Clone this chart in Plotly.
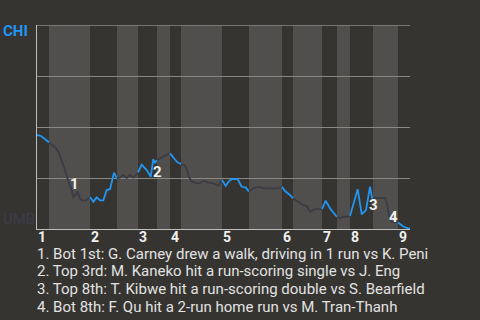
import plotly.graph_objects as go

# game progress (x) and CHI win probability in % (y)
progress = [0, 4, 8, 12,
            15, 19, 22, 25, 28, 31, 34, 36.5, 38, 40.5, 43, 45, 49, 53,
            56.3, 59.7, 63, 66.3, 69.7, 73, 77, 79.7, 80,
            83, 86.3, 89.7, 93, 96.3, 101,
            104.7, 109.7, 113.7, 116.3, 118, 120,
            123, 128, 133,
            136, 139.7, 144,
            148, 150, 152, 154.7, 159.7, 163, 166.3, 171.3, 176.3, 181.3, 185,
            188.7, 192, 194.7, 200.7, 203, 204.7, 208.7, 212,
            216.3, 221.3, 226.3, 233, 241, 245,
            248, 253, 256,
            261, 266, 269.7, 273, 278, 285,
            288.7, 293, 298, 300,
            303, 306.3, 309.7, 313,
            317, 320.7, 324.7, 329, 333, 335, 336,
            340, 343, 348, 350, 352.3, 354.7, 359.7, 361,
            366.3, 369.7, 373]
chi_wp = [46.1, 45.6, 44.1, 42.4,
          41.2, 39.5, 37.3, 33.3, 28.9, 24.0, 20.1, 15.7, 16.2, 18.4, 15.0, 14.0, 14.0, 15.7,
          13.4, 15.5, 14.0, 14.0, 19.1, 19.5, 27.6, 24.9, 25.0,
          25.2, 26.5, 25.0, 26.5, 25.2, 27.7,
          31.6, 28.9, 25.6, 34.2, 32.5, 33.8,
          34.7, 36.0, 37.1,
          35.0, 33.0, 31.7,
          31.1, 28.9, 25.5, 23.3, 22.4, 22.5, 23.7, 22.7, 22.4, 21.2, 24.0,
          21.1, 23.5, 24.4, 24.4, 22.4, 20.7, 20.4, 18.3,
          20.0, 20.7, 20.0, 19.9, 19.9, 20.7,
          18.6, 16.7, 15.0,
          13.2, 11.8, 11.3, 8.5, 9.7, 9.7,
          13.9, 10.1, 6.9, 5.9,
          5.2, 6.0, 6.0, 6.4,
          12.6, 19.5, 7.2, 9.3, 20.8, 15.4, 15.2,
          15.2, 15.5, 15.3, 12.3, 6.0, 3.6, 3.4, 3.2,
          1.2, 0.5, 0.2]

# half-inning boundaries on the progress scale (top 1st ... top 9th)
half_bounds = [0, 12, 53, 80, 101, 120, 133, 144, 185, 212, 245, 256, 285, 300, 313, 336, 361, 373]
inning_labels = ["1", "2", "3", "4", "5", "6", "7", "8", "9"]

# key events
event_ids = ["1", "2", "3", "4"]
event_x = [37, 120.5, 336, 356.5]
event_y = [22.1, 27.9, 11.8, 5.9]
event_texts = [
    "1. Bot 1st: G. Carney drew a walk, driving in 1 run vs K. Peni",
    "2. Top 3rd: M. Kaneko hit a run-scoring single vs J. Eng",
    "3. Top 8th: T. Kibwe hit a run-scoring double vs S. Bearfield",
    "4. Bot 8th: F. Qu hit a 2-run home run vs M. Tran-Thanh",
]

BG = "#363430"
BAND = "#504f4d"
BLUE = "#2196f3"
GREYLINE = "#3b3b44"
GRID = "#8a8885"
FONT = "Roboto"

fig = go.Figure()

shapes = []
for i in range(len(half_bounds) - 1):
    x0, x1 = half_bounds[i], half_bounds[i + 1]
    if i % 2 == 1:
        shapes.append(dict(type="rect", xref="x", yref="paper", x0=x0, x1=x1, y0=0, y1=1,
                           fillcolor=BAND, line=dict(width=0), layer="below"))
    xs = [x for x in progress if x0 <= x <= x1]
    ys = [y for x, y in zip(progress, chi_wp) if x0 <= x <= x1]
    fig.add_trace(go.Scatter(x=xs, y=ys, mode="lines",
                             line=dict(color=BLUE if i % 2 == 0 else GREYLINE, width=1.8),
                             hoverinfo="skip", showlegend=False))

# top gridline (100%)
shapes.append(dict(type="line", xref="paper", yref="y", x0=0, x1=1, y0=100, y1=100,
                   line=dict(color=GRID, width=1.5)))

annotations = []
for t, x, y in zip(event_ids, event_x, event_y):
    annotations.append(dict(x=x, y=y, xref="x", yref="y", text=f"<b>{t}</b>", showarrow=False,
                            font=dict(family=FONT, size=15, color="#f0f0f0")))

# inning tick labels at the start of each inning
for k, lab in enumerate(inning_labels):
    annotations.append(dict(x=half_bounds[2 * k], y=-0.04, xref="x", yref="paper",
                            text=f"<b>{lab}</b>", showarrow=False, xanchor="left", yanchor="middle",
                            borderpad=0, font=dict(family=FONT, size=14, color="#f0f0f0")))

line_pos = [-0.121, -0.208, -0.293, -0.380]
for txt, yp in zip(event_texts, line_pos):
    annotations.append(dict(x=-1 / 373, y=yp, xref="paper", yref="paper", text=txt, showarrow=False,
                            xanchor="left", yanchor="middle", borderpad=0,
                            font=dict(family=FONT, size=15, color="#e2e2e2")))

annotations.append(dict(x=-35 / 373, y=(229 - 30.5) / 204, xref="paper", yref="paper",
                        text="<b>CHI</b>", showarrow=False, xanchor="left", yanchor="middle",
                        borderpad=0, font=dict(family=FONT, size=15, color=BLUE)))
annotations.append(dict(x=-35 / 373, y=(229 - 219) / 204, xref="paper", yref="paper",
                        text="UMB", showarrow=False, xanchor="left", yanchor="middle",
                        borderpad=0, font=dict(family=FONT, size=15, color="#3d3d4a")))

fig.update_layout(
    width=480, height=320,
    margin=dict(l=37, r=70, t=25, b=91),
    paper_bgcolor=BG, plot_bgcolor=BG,
    shapes=shapes, annotations=annotations,
    xaxis=dict(range=[0, 373], showgrid=False, zeroline=False, showticklabels=False,
               showline=True, linecolor="#bdbdbd", linewidth=1, ticks=""),
    yaxis=dict(range=[0, 100], dtick=25, showgrid=True, gridcolor=GRID, gridwidth=1,
               zeroline=False, showticklabels=False, showline=True, linecolor="#bdbdbd",
               linewidth=1, ticks=""),
    font=dict(family=FONT),
)

fig.write_html("out.html", config={"displayModeBar": False})
